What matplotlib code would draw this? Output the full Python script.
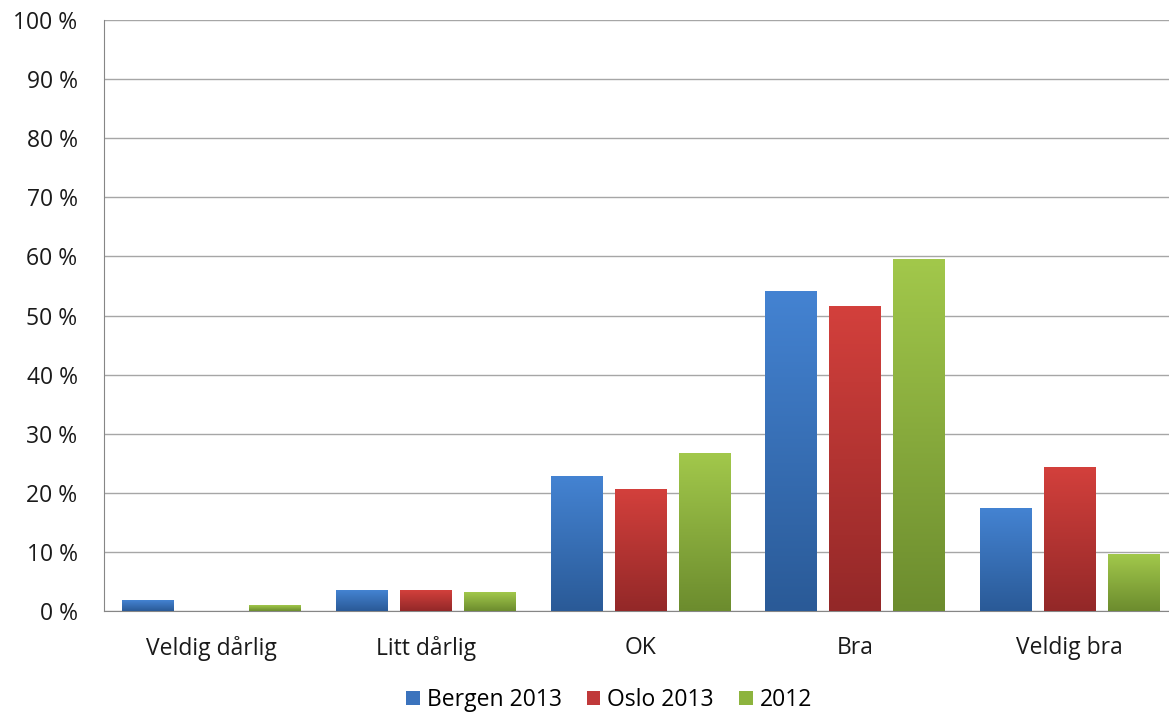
import matplotlib
matplotlib.use("Agg")
import matplotlib.pyplot as plt
import numpy as np
from matplotlib.colors import LinearSegmentedColormap
from matplotlib.patches import Patch

categories = ["Veldig dårlig", "Litt dårlig", "OK", "Bra", "Veldig bra"]
series_names = ["Bergen 2013", "Oslo 2013", "2012"]
bergen = [1.7, 3.4, 22.7, 54.1, 17.4]
oslo = [0.0, 3.4, 20.6, 51.6, 24.2]
y2012 = [0.85, 3.2, 26.6, 59.4, 9.5]
yticks = list(range(0, 101, 10))
ytick_labels = [f"{v} %" for v in yticks]

colors_top = ["#4483D2", "#D3403C", "#A2C84B"]
colors_bot = ["#2A5A97", "#932828", "#6C8C2E"]
legend_colors = ["#3B73BD", "#C0393A", "#8DB43E"]

plt.rcParams['font.family'] = ['Open Sans', 'DejaVu Sans']
fig = plt.figure(figsize=(11.69, 7.13), dpi=100)
ax = fig.add_axes([104 / 1169, 0.143, 1073 / 1169, 0.829])

x = np.arange(len(categories))
bw = 0.24
gap = 0.058
offsets = [-(bw + gap), 0, bw + gap]
data = [bergen, oslo, y2012]

for i, vals in enumerate(data):
    bars = ax.bar(x + offsets[i], vals, width=bw, color=colors_top[i], zorder=2)
    cmap = LinearSegmentedColormap.from_list("g", [colors_bot[i], colors_top[i]])
    grad = np.linspace(0, 1, 256).reshape(-1, 1)
    for b in bars:
        h = b.get_height()
        if h <= 0:
            continue
        x0 = b.get_x()
        ax.imshow(grad, cmap=cmap, origin="lower", aspect="auto",
                  extent=[x0, x0 + b.get_width(), 0, h], zorder=3)
ax.set_xlim(-0.5, len(categories) - 0.5)
ax.set_ylim(0, 100)

ax.set_yticks(yticks)
ax.set_yticklabels(ytick_labels)
ax.set_xticks(x)
ax.set_xticklabels(categories)
ax.yaxis.grid(True, color="#A6A6A6", linewidth=1.0, zorder=0)
ax.set_axisbelow(True)
for s in ["top", "right"]:
    ax.spines[s].set_visible(False)
ax.spines["left"].set_color("#868686")
ax.spines["bottom"].set_color("#868686")
ax.tick_params(axis="both", length=0, labelsize=16.5, colors="#1A1A1A")
ax.tick_params(axis="y", pad=19)
ax.tick_params(axis="x", pad=18)

handles = [Patch(facecolor=c, label=n) for c, n in zip(legend_colors, series_names)]
fig.legend(handles=handles, loc="center", bbox_to_anchor=(0.521, 0.018), ncol=3,
           frameon=False, fontsize=16.5, handlelength=0.6, handleheight=0.6,
           handletextpad=0.3, columnspacing=1.1)

fig.savefig("out.png", dpi=100)
